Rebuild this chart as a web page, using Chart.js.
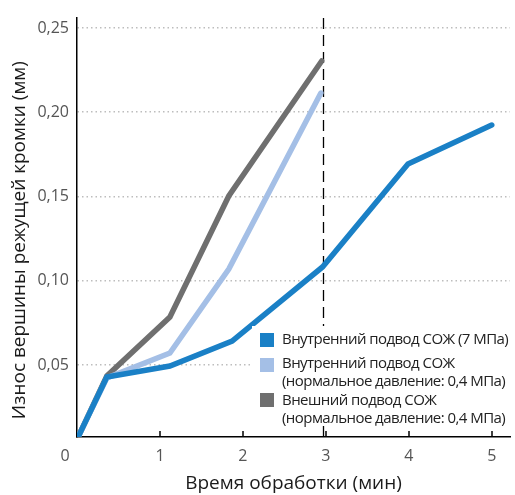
<!DOCTYPE html>
<html>
<head>
<meta charset="utf-8">
<script src="https://cdn.jsdelivr.net/npm/chart.js@4.4.1/dist/chart.umd.min.js"></script>
<style>
  body { margin: 0; background: #fff; }
  #wrap { position: relative; width: 515px; height: 495px; }
  #legend { position: absolute; left: 252px; top: 326px; width: 263px; height: 100px; background: #fff;
            font-family: 'Open Sans', sans-serif; font-size: 15px; letter-spacing: -0.55px; line-height: 17.5px; color: #222; }
  #legend .box { position: absolute; left: 8px; width: 14px; height: 14px; }
  #legend .txt { position: absolute; left: 30px; white-space: nowrap; }
</style>
</head>
<body>
<div id="wrap">
  <canvas id="chart" width="515" height="495"></canvas>
  <div id="legend"></div>
</div>
<script>
// values
var seriesNames = [
    ['Внутренний подвод СОЖ (7 МПа)'],
    ['Внутренний подвод СОЖ', '(нормальное давление: 0,4 МПа)'],
    ['Внешний подвод СОЖ', '(нормальное давление: 0,4 МПа)']
];
var timeInner7 = [0.02, 0.36, 1.12, 1.87, 2.96, 3.99, 5.0];
var wearInner7 = [0.008, 0.0429, 0.0494, 0.0642, 0.1082, 0.1693, 0.1924];
var timeInnerNormal = [0.02, 0.36, 1.12, 1.83, 2.94];
var wearInnerNormal = [0.008, 0.0423, 0.0571, 0.107, 0.2114];
var timeOuterNormal = [0.02, 0.36, 1.12, 1.83, 2.95];
var wearOuterNormal = [0.008, 0.0435, 0.0785, 0.1503, 0.2304];
var cutoffTime = 2.96;
var xTickValues = [0, 1, 2, 3, 4, 5];
var yTickValues = [0.05, 0.10, 0.15, 0.20, 0.25];

var colors = ['#1a80c6', '#a4bfe6', '#6f6f6f'];

function points(xs, ys) {
    return xs.map(function (x, i) { return {x: x, y: ys[i]}; });
}

function lineSet(label, xs, ys, color, order) {
    return {
        label: label,
        data: points(xs, ys),
        borderColor: color,
        backgroundColor: color,
        borderWidth: 5.5,
        pointRadius: 0,
        borderCapStyle: 'round',
        borderJoinStyle: 'miter',
        tension: 0,
        order: order
    };
}

// dashed line at the end of the test and the small upward ticks on the x axis
var overlay = {
    id: 'overlay',
    beforeDatasetsDraw: function (chart) {
        var ctx = chart.ctx, area = chart.chartArea, x = chart.scales.x;
        var dx = Math.round(x.getPixelForValue(cutoffTime)) + 0.5;
        ctx.save();
        ctx.strokeStyle = '#000';
        ctx.lineWidth = 1.3;
        ctx.setLineDash([11, 6]);
        ctx.beginPath();
        ctx.moveTo(dx, area.top);
        ctx.lineTo(dx, area.bottom);
        ctx.stroke();
        ctx.restore();
    },
    afterDraw: function (chart) {
        var ctx = chart.ctx, area = chart.chartArea, x = chart.scales.x;
        ctx.save();
        ctx.strokeStyle = '#000';
        ctx.lineWidth = 1.5;
        x.ticks.forEach(function (t) {
            if (t.value === 0) return;
            var px = Math.round(x.getPixelForValue(t.value));
            ctx.beginPath();
            ctx.moveTo(px, area.bottom);
            ctx.lineTo(px, area.bottom - 6);
            ctx.stroke();
        });
        ctx.restore();
    }
};

Chart.defaults.font.family = "'Open Sans', sans-serif";

new Chart(document.getElementById('chart'), {
    type: 'line',
    data: {
        datasets: [
            lineSet(seriesNames[0].join(' '), timeInner7, wearInner7, colors[0], 1),
            lineSet(seriesNames[1].join(' '), timeInnerNormal, wearInnerNormal, colors[1], 2),
            lineSet(seriesNames[2].join(' '), timeOuterNormal, wearOuterNormal, colors[2], 3)
        ]
    },
    options: {
        responsive: false,
        animation: false,
        layout: { padding: { top: 18, right: 5, left: 0, bottom: 0 } },
        plugins: { legend: { display: false }, tooltip: { enabled: false } },
        scales: {
            x: {
                type: 'linear',
                min: 0,
                max: 5.22,
                afterBuildTicks: function (scale) {
                    scale.ticks = xTickValues.map(function (v) { return {value: v}; });
                },
                afterFit: function (scale) { scale.height = 58; },
                grid: { display: false, drawTicks: false },
                border: { display: true, color: '#000', width: 1.5 },
                ticks: {
                    padding: 10,
                    color: '#555',
                    font: { size: 16 },
                    maxRotation: 0,
                    // the zero label sits a little left of the corner in the original
                    callback: function (v) { return v === 0 ? '0\u2003\u2002' : String(v); }
                },
                title: {
                    display: true,
                    text: 'Время обработки (мин)',
                    color: '#1a1a1a',
                    font: { size: 19 },
                    padding: { top: 0, bottom: 0 }
                }
            },
            y: {
                min: 0.0073,
                max: 0.2559,
                afterBuildTicks: function (scale) {
                    scale.ticks = yTickValues.map(function (v) { return {value: v}; });
                },
                afterFit: function (scale) { scale.width = 77; },
                grid: { color: '#bdbdbd', lineWidth: 1.5, drawTicks: false },
                border: { display: true, color: '#000', width: 1.5, dash: [1.5, 3] },
                ticks: {
                    padding: 8,
                    color: '#555',
                    font: { size: 16 },
                    callback: function (v) { return v.toFixed(2).replace('.', ','); }
                },
                title: {
                    display: true,
                    text: 'Износ вершины режущей кромки (мм)\u2003\u2004',
                    color: '#1a1a1a',
                    font: { size: 19 },
                    padding: { top: 8, bottom: 0 }
                }
            }
        }
    },
    plugins: [overlay]
});

// legend with two-line entries
var rowTops = [[7, 4], [32, 28], [67, 65]];
var legend = document.getElementById('legend');
seriesNames.forEach(function (lines, i) {
    var box = document.createElement('div');
    box.className = 'box';
    box.style.top = rowTops[i][0] + 'px';
    box.style.background = colors[i];
    legend.appendChild(box);
    var txt = document.createElement('div');
    txt.className = 'txt';
    txt.style.top = rowTops[i][1] + 'px';
    txt.innerHTML = lines.join('<br>');
    legend.appendChild(txt);
});
</script>
</body>
</html>
